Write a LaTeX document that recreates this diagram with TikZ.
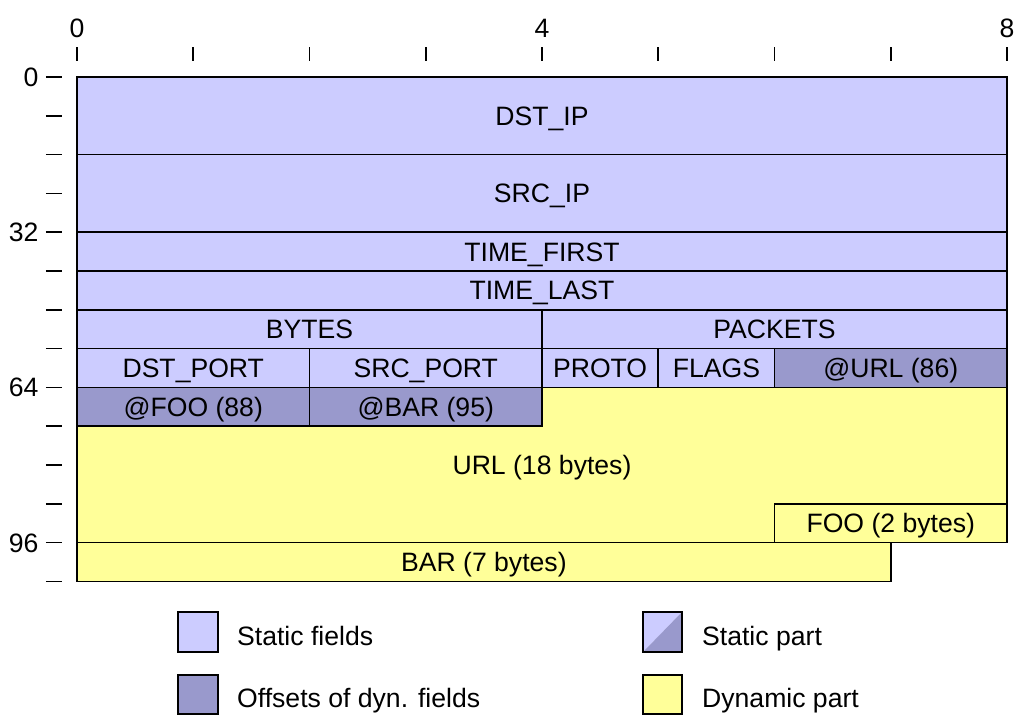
\documentclass[tikz,border=0pt]{standalone}
\usepackage{fontspec}
\setmainfont{Liberation Sans}
\usepackage{xcolor}
\usepackage{tikz}
\definecolor{statlite}{HTML}{CCCCFF}
\definecolor{statdark}{HTML}{9999CC}
\definecolor{dynyellow}{HTML}{FFFF99}

\begin{document}
\begin{tikzpicture}[x=116.25pt,y=-38.8pt,
  every node/.style={font=\fontsize{26.6}{30}\selectfont,inner sep=0pt,
                     text height=19pt,text depth=0pt},
  fld/.style={draw=black,line width=1.6pt,fill=statlite},
  off/.style={fld,fill=statdark},
  dyn/.style={fld,fill=dynyellow},
  tck/.style={line width=1.6pt},
  lbl/.style={anchor=west}]
\useasboundingbox (-0.6624,-1.9845) rectangle (8.1376,16.778);
% axes
\foreach \i in {0,...,8}
  \draw[tck] (\i,-0.773) -- (\i,-0.412);
\foreach \i/\t in {0/0,4/4,8/8}
  \node (top\i) at (\i,-1.263) {\t};
\foreach \j in {0,...,13}
  \draw[tck] (-0.267,\j) -- (-0.129,\j);
\foreach \j/\t in {0/0,4/32,8/64,12/96}
  \node[anchor=east] (left\j) at (-0.33,\j) {\t};
% static part
\draw[fld] (0,0) rectangle (8,2) node[midway] (dstip) {DST\_IP};
\draw[fld] (0,2) rectangle (8,4) node[midway] (srcip) {SRC\_IP};
\draw[fld] (0,4) rectangle (8,5) node[midway] (tfirst) {TIME\_FIRST};
\draw[fld] (0,5) rectangle (8,6) node[midway] (tlast) {TIME\_LAST};
\draw[fld] (0,6) rectangle (4,7) node[midway] (bytes) {BYTES};
\draw[fld] (4,6) rectangle (8,7) node[midway] (packets) {PACKETS};
\draw[fld] (0,7) rectangle (2,8) node[midway] (dstport) {DST\_PORT};
\draw[fld] (2,7) rectangle (4,8) node[midway] (srcport) {SRC\_PORT};
\draw[fld] (4,7) rectangle (5,8) node[midway] (proto) {PROTO};
\draw[fld] (5,7) rectangle (6,8) node[midway] (flags) {FLAGS};
\draw[off] (6,7) rectangle (8,8) node[midway] (offurl) {@URL (86)};
\draw[off] (0,8) rectangle (2,9) node[midway] (offfoo) {@FOO (88)};
\draw[off] (2,8) rectangle (4,9) node[midway] (offbar) {@BAR (95)};
% dynamic part
\draw[dyn] (4,8) -- (8,8) -- (8,11) -- (6,11) -- (6,12) -- (0,12) -- (0,9)
  -- (4,9) -- cycle;
\node (url) at (4,10) {URL (18 bytes)};
\draw[dyn] (6,11) rectangle (8,12) node[midway] (foo) {FOO (2 bytes)};
\draw[dyn] (0,12) rectangle (7,13) node[midway] (bar) {BAR (7 bytes)};
% legend
\draw[fld] (0.869,13.789) rectangle (1.215,14.82);
\node[lbl] (legstat) at (1.376,14.407) {Static fields};
\draw[off] (0.869,15.412) rectangle (1.215,16.418);
\node[lbl] (legoff) at (1.376,16.005) {Offsets of dyn. fields};
\fill[statlite] (4.869,14.82) -- (4.869,13.789) -- (5.204,13.789) -- cycle;
\fill[statdark] (4.869,14.82) -- (5.204,13.789) -- (5.204,14.82) -- cycle;
\draw[fld,fill=none] (4.869,13.789) rectangle (5.204,14.82);
\node[lbl] (legpart) at (5.376,14.407) {Static part};
\draw[dyn] (4.869,15.412) rectangle (5.204,16.418);
\node[lbl] (legdyn) at (5.376,16.005) {Dynamic part};
\end{tikzpicture}
\end{document}
